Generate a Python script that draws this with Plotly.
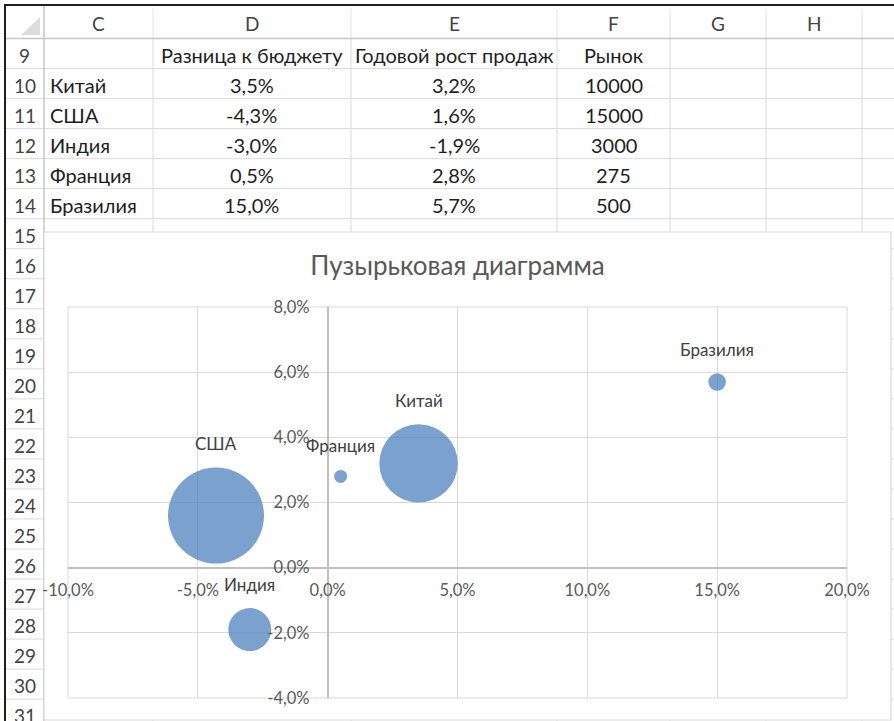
import plotly.graph_objects as go

# ---------------------------------------------------------------- data
header_budget = "Разница к бюджету"
header_growth = "Годовой рост продаж"
header_market = "Рынок"

countries = ["Китай", "США", "Индия", "Франция", "Бразилия"]
budget_diff = [0.035, -0.043, -0.030, 0.005, 0.150]     # column D
sales_growth = [0.032, 0.016, -0.019, 0.028, 0.057]     # column E
market = [10000, 15000, 3000, 275, 500]                 # column F

column_letters = ["C", "D", "E", "F", "G", "H"]
first_row, last_row = 9, 31

chart_title = "Пузырьковая диаграмма"
x_tickvals = [-0.10, -0.05, 0.0, 0.05, 0.10, 0.15, 0.20]
x_ticktext = ["-10,0%", "-5,0%", "0,0%", "5,0%", "10,0%", "15,0%", "20,0%"]
y_tickvals = [-0.04, -0.02, 0.0, 0.02, 0.04, 0.06, 0.08]
y_ticktext = ["-4,0%", "-2,0%", "0,0%", "2,0%", "4,0%", "6,0%", "8,0%"]

# ---------------------------------------------------------------- geometry
W, H = 894, 721
FONT = "Lato, Carlito, Calibri, sans-serif"

COL_EDGES = [44, 153, 351, 557, 670, 766, 862]   # left edge of C ... right edge of H
ROW_TOP = 38.5                                    # top of row 9
ROW_H = 30.03
CHART_BOX = (44, 232, 891, 720)                   # x0, y0, x1, y1 in pixels
PLOT_BOX = (68, 307, 847, 698)
X_RANGE = [-0.10, 0.20]
Y_RANGE = [-0.04, 0.08]
MAX_BUBBLE_PX = 96


def px(x):
    return x / W


def py(y):
    return 1 - y / H


def pct(v):
    return f"{v * 100:.1f}%".replace(".", ",")


def row_center(row):
    return ROW_TOP + (row - first_row) * ROW_H + ROW_H / 2


shapes = []
annotations = []

GRID = "#dadada"
HEAD_LINE = "#c6c6c6"


def hline(y, x0, x1, color, width=1.0):
    shapes.append(dict(type="line", xref="paper", yref="paper", layer="below",
                       x0=px(x0), x1=px(x1), y0=py(y), y1=py(y),
                       line=dict(color=color, width=width)))


def vline(x, y0, y1, color, width=1.0):
    shapes.append(dict(type="line", xref="paper", yref="paper", layer="below",
                       x0=px(x), x1=px(x), y0=py(y0), y1=py(y1),
                       line=dict(color=color, width=width)))


def label(x, y, text, font, anchor="center"):
    annotations.append(dict(x=px(x), y=py(y), xref="paper", yref="paper",
                            text=text, showarrow=False,
                            xanchor=anchor, yanchor="middle", font=font))


# worksheet grid
n_rows = last_row - first_row + 1
for k in range(1, n_rows):
    hline(ROW_TOP + k * ROW_H, 5, W, GRID)
for x in COL_EDGES[1:]:
    vline(x, ROW_TOP, H, GRID)
    vline(x, 9, ROW_TOP, "#e2e2e2")
hline(ROW_TOP, 5, W, HEAD_LINE, 1.5)
vline(COL_EDGES[0], 6, H, HEAD_LINE, 1.5)

# select-all corner triangle
shapes.append(dict(type="path", xref="paper", yref="paper", layer="below",
                   path=f"M{px(40)},{py(17)} L{px(40)},{py(35)} L{px(21)},{py(35)} Z",
                   fillcolor="#dcdcdc", line=dict(width=0)))

# window frame
hline(5, 4, W, "#1f1f1f", 2)
vline(5, 4, H, "#1f1f1f", 2)

# chart area
cx0, cy0, cx1, cy1 = CHART_BOX
shapes.append(dict(type="rect", xref="paper", yref="paper", layer="below",
                   x0=px(cx0), x1=px(cx1), y0=py(cy1), y1=py(cy0),
                   fillcolor="white", line=dict(color="#d9d9d9", width=1.2)))
# plot-area frame
shapes.append(dict(type="rect", xref="x domain", yref="y domain", layer="below",
                   x0=0, x1=1, y0=0, y1=1,
                   line=dict(color="#d9d9d9", width=1)))

HEAD_FONT = dict(family=FONT, size=19, color="#444444")
CELL_FONT = dict(family=FONT, size=20, color="#1e1e1e")

# column letters
for i, letter in enumerate(column_letters):
    label((COL_EDGES[i] + COL_EDGES[i + 1]) / 2, 24, letter, HEAD_FONT)

# row numbers
for r in range(first_row, last_row + 1):
    label(24.5, row_center(r) + 1.5, str(r), HEAD_FONT)

center_d = (COL_EDGES[1] + COL_EDGES[2]) / 2
center_e = (COL_EDGES[2] + COL_EDGES[3]) / 2
center_f = (COL_EDGES[3] + COL_EDGES[4]) / 2


def cell(x, row, text, anchor="center"):
    label(x, row_center(row) + 1.5, text, CELL_FONT, anchor)


cell(center_d, first_row, header_budget)
cell(center_e, first_row, header_growth)
cell(center_f, first_row, header_market)
for i, name in enumerate(countries):
    row = first_row + 1 + i
    cell(COL_EDGES[0] + 4, row, name, anchor="left")
    cell(center_d, row, pct(budget_diff[i]))
    cell(center_e, row, pct(sales_growth[i]))
    cell(center_f, row, str(market[i]))

# ---------------------------------------------------------------- bubble chart
xd = [px(PLOT_BOX[0]), px(PLOT_BOX[2])]
yd = [py(PLOT_BOX[3]), py(PLOT_BOX[1])]
# axis lines cross at zero, as in a spreadsheet chart
x_axis_pos = yd[0] + (0 - Y_RANGE[0]) / (Y_RANGE[1] - Y_RANGE[0]) * (yd[1] - yd[0])
y_axis_pos = xd[0] + (0 - X_RANGE[0]) / (X_RANGE[1] - X_RANGE[0]) * (xd[1] - xd[0])

max_market = max(market)
sizeref = 2.0 * max_market / MAX_BUBBLE_PX ** 2

fig = go.Figure(go.Scatter(
    x=budget_diff, y=sales_growth, mode="markers",
    marker=dict(size=market, sizemode="area", sizeref=sizeref,
                color="#4f81bd", opacity=0.75, line=dict(width=0)),
    hoverinfo="skip", cliponaxis=False,
))

# data labels above each bubble
for name, xv, yv, mv in zip(countries, budget_diff, sales_growth, market):
    radius = MAX_BUBBLE_PX / 2 * (mv / max_market) ** 0.5
    annotations.append(dict(x=xv, y=yv, xref="x", yref="y", text=name, showarrow=False,
                            yshift=radius + 24, xanchor="center", yanchor="middle",
                            font=dict(family=FONT, size=17, color="#404040")))

TICK_FONT = dict(family=FONT, size=16.5, color="#595959")
fig.update_layout(
    width=W, height=H, autosize=False,
    margin=dict(l=0, r=0, t=0, b=0, pad=0, autoexpand=False),
    paper_bgcolor="white", plot_bgcolor="rgba(0,0,0,0)",
    showlegend=False,
    shapes=shapes, annotations=annotations,
    title=dict(text=chart_title, x=457.5 / W, xanchor="center", xref="paper",
               y=py(266), yanchor="middle", yref="paper",
               font=dict(family=FONT, size=26, color="#595959")),
    xaxis=dict(domain=xd, range=X_RANGE, anchor="free", position=x_axis_pos,
               tickvals=x_tickvals, ticktext=x_ticktext, ticks="",
               ticklabelstandoff=8, tickfont=TICK_FONT, automargin=False,
               showgrid=True, gridcolor="#d9d9d9", gridwidth=1,
               zeroline=False, showline=True, linecolor="#bfbfbf", linewidth=1.5),
    yaxis=dict(domain=yd, range=Y_RANGE, anchor="free", position=y_axis_pos,
               tickvals=y_tickvals, ticktext=y_ticktext, ticks="",
               ticklabelstandoff=14, tickfont=TICK_FONT, automargin=False,
               showgrid=True, gridcolor="#d9d9d9", gridwidth=1,
               zeroline=False, showline=True, linecolor="#bfbfbf", linewidth=1.5),
)

fig.write_html("out.html")
